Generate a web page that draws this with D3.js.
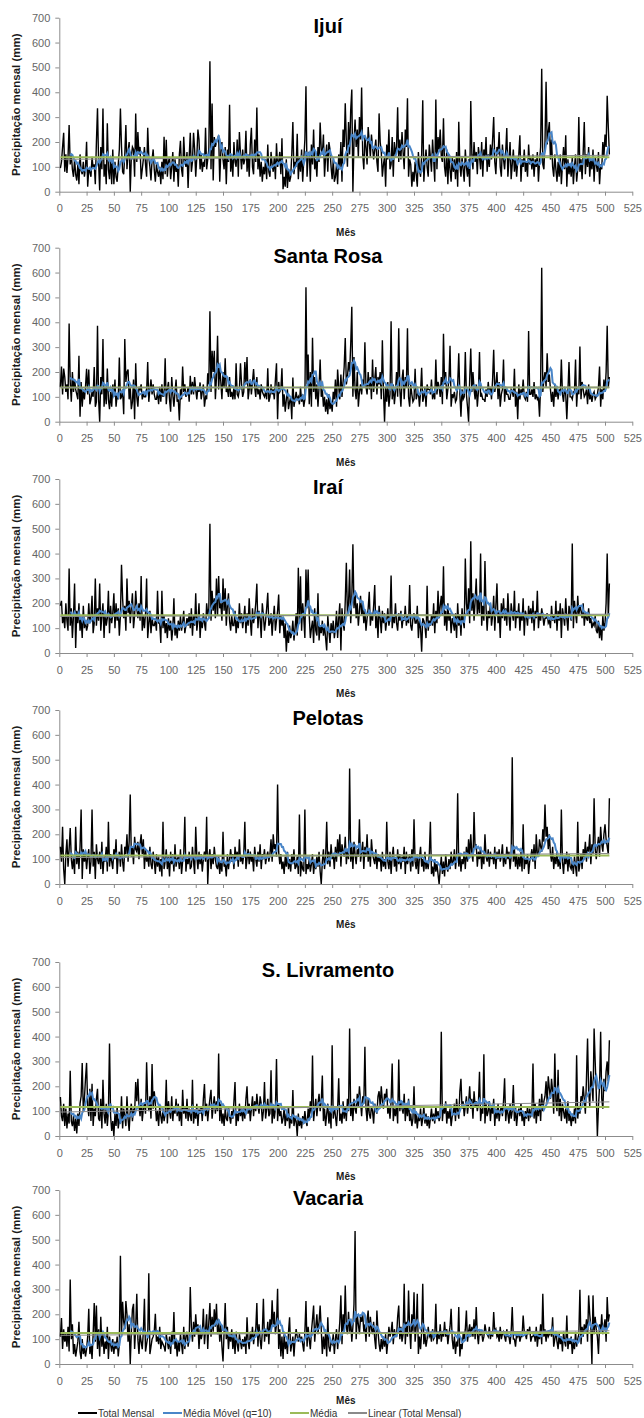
<!DOCTYPE html>
<meta charset="utf-8">
<html>
<head>
<style>
  body { margin: 0; background: #fff; }
  svg text { font-family: "Liberation Sans", Arial, sans-serif; }
  .axis path, .axis line { stroke: #8c8c8c; stroke-width: 1px; }
  .axis text { fill: #666; font-size: 11px; }
  .title { font-size: 20px; font-weight: bold; fill: #000; }
  .ylabel { font-size: 11.5px; font-weight: bold; fill: #1a1a1a; }
  .xlabel { font-size: 10px; font-weight: bold; fill: #1a1a1a; }
  .legend text { font-size: 10px; fill: #333; }
  .total { fill: none; stroke: #000; stroke-width: 1.4px; }
  .mm { fill: none; stroke: #4a86c8; stroke-width: 2px; }
  .media { fill: none; stroke: #9bbb59; stroke-width: 2px; }
  .trend { fill: none; stroke: #8a8a8a; stroke-width: 1px; }
</style>
</head>
<body>
<div id="content"></div>
<script src="https://cdn.jsdelivr.net/npm/d3@7"></script>
<script>

// monthly totals (mm), one row per year, months 1..504
var ijui = [
95,120,180,237,80,150,75,140,268,110,150,90,
60,130,70,45,110,30,150,85,70,120,60,95,
201,20,90,80,60,140,95,110,30,200,336,120,
5,180,90,335,60,110,30,275,90,50,140,30,
170,30,120,60,40,110,170,335,180,80,70,150,
268,90,160,200,0,140,180,170,60,315,120,240,
150,180,50,90,130,180,110,60,257,140,100,45,
130,170,90,40,110,80,60,100,30,120,50,221,
70,209,60,120,140,50,100,160,40,130,80,110,
20,150,205,90,60,221,130,100,160,15,140,237,
80,120,237,170,60,140,250,210,90,150,80,120,
100,257,90,130,170,525,90,355,45,220,180,200,
210,227,40,160,200,130,90,180,30,170,120,350,
80,140,60,200,120,100,210,60,240,150,90,170,
110,130,245,80,150,60,190,257,100,70,210,120,
339,90,150,60,120,40,100,70,130,50,190,80,
60,160,110,80,140,50,195,100,120,160,70,215,
10,60,20,130,15,90,40,60,150,280,70,120,
100,233,50,140,80,170,40,130,210,424,60,150,
160,40,190,110,250,90,130,60,180,120,278,170,
150,230,60,140,190,80,200,170,100,50,130,40,
60,110,30,150,90,200,40,250,180,356,200,100,
280,150,330,411,0,200,290,180,250,140,300,210,
419,150,90,220,180,110,260,200,140,230,180,130,
170,210,120,80,315,200,160,60,110,140,20,190,
130,250,90,110,220,60,200,150,180,340,120,210,
130,240,160,90,250,180,376,60,130,110,20,80,
40,120,70,20,160,90,60,150,368,40,120,170,
100,60,190,140,80,210,130,40,371,90,220,170,
250,140,120,295,100,60,170,30,150,90,40,140,
80,130,50,160,20,281,110,60,140,90,40,170,
100,60,130,20,365,150,90,200,120,160,70,180,
140,90,200,60,170,130,220,80,150,100,190,130,
210,300,120,70,180,150,240,100,60,190,130,90,
160,256,60,130,200,50,110,170,80,140,60,120,
150,227,40,130,100,170,80,120,60,190,110,140,
90,150,60,130,100,160,40,120,180,495,110,90,
200,442,190,240,280,130,210,100,60,150,90,40,
120,60,150,30,110,180,90,227,20,130,70,110,
60,140,30,100,150,40,90,300,80,130,50,160,
280,70,150,100,180,60,130,90,170,40,140,110,
80,160,30,110,90,200,140,230,180,386,260,150
];

var santaRosa = [
140,222,110,214,180,120,150,90,395,160,80,200,
120,170,130,110,90,265,20,160,60,130,90,140,
213,110,210,70,90,120,100,220,60,80,386,90,
0,180,110,333,60,140,70,214,90,50,120,60,
150,100,170,60,110,90,258,90,100,130,30,333,
160,200,210,90,140,50,80,170,10,235,100,60,
140,130,150,90,110,100,100,120,240,80,130,170,
110,150,110,90,90,120,70,140,80,150,100,110,
255,70,130,160,90,40,180,110,60,120,170,80,
90,5,130,90,222,120,150,100,110,140,80,185,
110,160,110,180,130,90,140,120,158,90,120,150,
60,100,90,195,150,444,120,285,200,285,90,180,
346,130,220,160,90,200,140,255,120,130,100,180,
100,120,90,140,90,235,110,100,130,235,150,100,
120,240,150,260,90,130,170,110,160,212,140,100,
180,110,130,90,150,120,110,100,120,90,215,80,
100,150,110,130,90,170,235,10,160,120,130,215,
60,110,40,90,130,50,80,100,10,178,60,90,
120,90,100,70,140,80,110,60,90,541,150,270,
70,200,60,338,120,180,90,150,60,140,250,100,
130,60,100,40,90,30,110,50,80,40,120,90,
170,60,210,140,90,190,100,160,220,337,150,180,
240,200,310,462,100,260,130,90,200,60,120,150,
110,170,140,320,140,110,200,130,180,90,250,120,
170,220,110,180,150,200,90,328,130,0,140,80,
160,60,110,404,90,150,70,120,200,100,376,130,
60,170,210,90,180,140,376,100,60,150,110,80,
90,213,90,110,120,60,120,217,80,100,140,60,
150,130,130,110,170,90,120,90,250,110,160,140,
100,180,70,354,150,200,90,130,170,305,60,110,
100,120,80,90,150,275,110,20,130,90,100,280,
110,60,0,170,294,120,200,130,90,150,60,120,
280,100,110,90,90,80,130,100,160,110,140,90,
170,289,120,150,200,90,160,60,110,130,250,80,
140,110,110,90,90,130,120,100,213,60,120,10,
150,90,130,110,170,100,90,120,80,365,110,110,
130,100,160,90,110,90,100,20,150,619,120,170,
200,140,275,160,190,130,80,120,60,150,100,140,
90,130,110,250,110,80,140,110,10,120,240,100,
100,90,120,120,250,60,140,110,302,90,160,130,
100,110,130,70,150,90,110,80,110,120,90,100,
110,140,222,60,130,90,170,120,200,386,140,180
];

var irai = [
190,210,120,150,100,200,130,90,340,110,180,60,
150,280,20,170,120,200,90,140,60,190,100,130,
90,110,200,120,150,230,80,120,300,110,180,130,
280,90,150,200,60,170,110,140,250,80,190,120,
160,240,100,200,130,180,70,150,355,220,140,190,
90,300,160,210,120,180,240,100,150,250,180,140,
200,130,310,90,150,100,160,300,60,120,170,80,
140,110,110,130,90,250,120,120,40,250,100,150,
80,120,60,140,90,130,50,100,220,70,110,60,
130,90,150,90,120,170,80,110,140,110,160,100,
180,70,150,110,240,90,130,200,60,140,100,160,
120,90,200,150,180,520,130,250,170,220,140,300,
150,310,180,200,130,300,170,260,110,190,240,130,
90,150,110,110,170,80,130,100,200,120,160,100,
140,190,80,160,110,220,130,70,180,120,150,200,
279,100,170,140,60,200,150,90,130,180,242,110,
120,160,70,140,190,90,130,170,235,80,150,110,
140,60,120,5,90,40,110,60,80,130,50,100,
160,70,343,120,309,90,200,140,60,336,180,336,
150,60,100,130,40,180,90,70,240,50,110,80,
130,70,110,60,10,150,90,40,120,80,130,60,
100,170,60,140,200,10,180,120,90,210,363,150,
200,336,120,220,437,180,250,140,200,110,170,230,
150,200,120,170,90,140,180,246,110,160,130,190,
273,100,150,60,190,140,80,170,120,160,90,130,
180,110,140,312,100,150,120,200,120,90,160,130,
170,100,140,130,190,110,150,120,273,110,90,140,
160,120,120,190,60,130,100,5,140,130,110,60,
270,90,130,110,150,110,200,80,170,120,250,140,
190,230,150,349,110,170,90,200,130,160,80,140,
120,90,160,60,200,110,150,70,180,130,100,380,
200,150,260,120,450,170,240,130,210,300,150,220,
160,400,110,190,130,370,180,90,170,140,200,110,
150,230,90,190,280,120,170,60,200,140,220,130,
180,110,240,150,90,200,160,130,250,100,170,140,
200,90,160,130,220,70,170,150,110,190,140,180,
120,210,90,170,140,250,100,160,130,180,150,110,
140,140,160,120,130,100,190,130,150,120,210,90,
170,130,200,60,180,150,110,220,140,90,190,160,
130,440,100,210,160,120,230,150,190,170,140,200,
110,160,140,130,180,120,140,100,120,110,150,90,
80,130,60,110,50,150,90,120,200,400,140,280
];

var pelotas = [
150,90,230,60,0,120,180,70,140,225,100,60,
110,40,230,80,130,60,150,300,20,140,90,120,
60,110,140,40,90,300,70,130,20,160,100,80,
130,60,170,40,110,90,150,50,250,70,120,90,
60,140,100,180,40,110,130,70,160,90,50,150,
120,200,90,170,360,110,150,80,190,140,130,170,
100,160,200,120,180,60,140,90,110,70,150,80,
60,130,90,40,120,70,110,50,100,30,250,60,
90,140,60,110,30,130,80,120,50,160,70,100,
110,60,140,40,90,120,270,50,100,80,130,60,
70,150,90,40,230,110,60,130,80,120,50,100,
130,90,270,0,110,140,60,120,80,150,100,70,
60,110,40,90,50,210,70,80,30,120,60,100,
140,90,120,60,150,100,130,70,180,90,110,80,
120,250,60,100,140,80,130,90,110,50,150,100,
70,130,90,160,60,120,100,140,80,110,130,90,
120,180,90,200,140,160,110,400,130,80,120,60,
90,40,110,70,130,60,100,50,120,80,140,60,
70,110,40,280,30,90,60,50,300,40,80,60,
100,50,80,120,40,90,60,110,70,130,50,0,
90,140,60,110,250,80,130,70,160,100,120,60,
150,90,180,120,200,70,160,130,110,190,80,140,
100,465,90,150,60,170,120,80,140,110,260,90,
130,170,60,150,110,200,90,140,70,180,120,100,
80,140,60,120,90,110,50,130,70,100,60,250,
90,60,130,40,110,150,70,100,50,140,80,120,
60,110,90,150,40,130,80,100,120,50,140,70,
260,90,60,120,40,110,150,70,100,50,130,60,
90,60,120,250,40,70,30,100,50,80,40,0,
60,110,40,90,30,120,70,50,100,60,130,80,
90,140,60,110,365,70,120,50,100,80,130,60,
150,90,180,110,200,120,90,290,140,160,70,130,
100,150,60,120,80,200,110,90,140,70,130,100,
120,80,150,60,130,100,140,90,110,160,70,120,
80,150,100,130,60,110,510,90,140,70,120,60,
110,70,130,50,240,60,100,80,120,40,90,110,
140,90,160,60,200,120,110,180,150,130,220,170,
320,190,230,140,200,120,90,150,60,110,80,130,
70,100,60,300,90,40,110,80,130,50,120,70,
60,90,40,110,70,30,250,50,80,120,60,140,
110,170,90,150,130,200,80,160,120,345,140,100,
150,190,110,230,160,130,200,240,180,150,120,345
];

var livramento = [
157,80,60,130,40,110,30,90,50,262,60,40,
80,20,70,10,90,40,130,160,294,100,150,230,
294,120,80,190,60,210,40,110,80,150,190,70,
60,150,30,226,90,50,130,40,100,372,80,20,
60,0,90,40,120,30,70,50,160,30,110,80,
40,160,70,20,100,130,60,110,90,217,140,230,
120,80,150,60,110,130,90,297,140,100,160,70,
290,110,180,130,60,100,40,120,80,50,110,60,
90,226,50,140,100,70,160,60,120,90,150,80,
130,60,110,40,186,90,120,70,150,60,110,80,
60,226,50,100,70,130,40,110,90,120,60,150,
209,80,130,60,110,150,186,70,120,160,90,140,
100,332,60,130,50,90,40,110,70,60,120,80,
50,100,70,140,217,40,90,60,130,80,110,60,
120,70,150,200,90,130,60,110,160,80,140,100,
170,120,90,160,130,60,100,217,70,110,150,80,
90,264,50,120,70,110,310,60,130,80,100,50,
70,110,40,90,60,120,30,80,50,185,40,70,
60,0,90,40,70,30,80,50,100,60,40,110,
70,140,90,324,60,110,150,80,130,170,100,140,
243,60,110,40,90,130,50,100,30,365,70,120,
80,40,110,232,60,90,50,140,70,120,60,150,
100,432,80,130,60,150,110,90,170,120,200,140,
80,160,130,359,110,60,150,90,70,120,100,50,
130,110,90,160,180,120,200,140,110,170,150,190,
90,120,70,140,292,60,110,80,130,50,308,100,
140,110,90,170,60,130,80,150,60,90,40,70,
200,50,90,30,80,60,110,40,70,120,50,90,
40,80,30,70,110,60,90,50,120,70,100,60,
80,419,60,120,90,140,50,100,70,110,40,80,
90,130,60,150,100,70,180,230,110,140,80,120,
160,90,130,200,110,150,70,180,120,140,100,130,
258,60,110,90,329,50,130,80,100,140,60,120,
90,150,40,110,70,130,60,100,120,80,140,232,
60,110,90,50,130,70,100,205,60,120,40,90,
110,80,130,60,90,40,100,70,120,60,110,80,
90,292,70,130,50,110,80,150,60,170,100,140,
160,220,130,240,190,150,230,180,90,332,140,100,
266,80,150,60,130,100,70,110,50,140,60,90,
40,80,60,110,50,325,70,120,90,160,140,200,
150,90,230,392,180,120,260,200,140,432,300,170,
0,120,200,419,150,110,230,180,260,300,220,385
];

var vacaria = [
110,185,60,140,90,120,70,150,50,340,100,160,
40,80,30,60,90,170,50,20,100,40,70,30,
60,110,222,40,80,20,120,245,90,235,60,140,
30,190,70,120,40,90,60,150,20,110,80,50,
100,40,90,60,110,30,80,435,120,250,170,140,
253,200,90,160,0,130,220,242,60,150,283,100,
40,120,90,60,130,262,50,80,110,365,40,70,
100,110,130,202,90,110,80,150,60,90,80,70,
50,120,90,60,110,40,130,80,209,60,100,30,
90,50,120,80,40,150,60,110,130,70,100,310,
150,90,170,110,200,130,160,60,140,100,120,222,
80,140,200,60,170,245,110,190,130,220,150,242,
120,180,90,160,70,10,130,245,100,150,60,120,
90,140,60,110,40,130,80,50,120,90,60,100,
70,110,40,188,90,60,130,100,150,80,120,140,
245,70,160,100,60,130,262,90,140,110,170,80,
180,130,256,150,210,120,160,303,60,140,30,110,
20,120,60,90,40,130,188,50,80,110,30,100,
140,110,90,120,90,110,80,50,130,253,70,150,
100,60,130,180,235,90,150,200,120,170,235,140,
40,110,60,130,30,188,70,50,90,80,120,40,
100,140,60,110,170,276,80,200,130,316,150,120,
210,130,180,90,150,240,535,100,200,160,120,190,
170,200,130,160,90,180,215,110,190,140,120,170,
100,60,215,130,80,50,100,60,110,70,120,40,
90,150,110,130,170,80,140,110,110,190,235,100,
150,90,120,323,80,170,110,296,140,60,200,130,
289,90,150,283,40,110,60,130,323,80,120,70,
100,150,110,120,90,140,100,110,242,80,130,100,
160,90,130,110,170,110,140,80,120,150,222,100,
60,110,40,90,70,229,30,80,60,120,100,140,
215,90,130,160,110,150,110,180,100,229,120,80,
140,120,130,90,110,160,130,120,110,150,100,130,
110,209,130,140,110,120,90,150,100,120,130,110,
90,140,110,110,80,130,229,100,100,70,120,110,
130,90,110,110,195,130,120,100,140,120,150,90,
110,110,130,90,150,70,120,100,160,80,283,110,
140,90,130,110,120,130,110,188,70,100,130,90,
60,120,80,110,50,130,90,70,195,60,100,80,
110,40,90,60,130,70,100,120,299,80,150,110,
160,130,180,90,276,200,150,0,276,120,190,140,
110,40,160,130,200,120,150,180,90,269,170,200
];

var stations = ["Ijuí", "Santa Rosa", "Iraí", "Pelotas", "S. Livramento", "Vacaria"];
var series = [ijui, santaRosa, irai, pelotas, livramento, vacaria];
var xTicks = d3.range(0, 526, 25);
var yTicks = d3.range(0, 701, 100);
var legendLabels = ["Total Mensal", "Média Móvel (q=10)", "Média", "Linear (Total Mensal)"];
var period = 10;

// layout
var W = 644, H = 1418;
var left = 59.3, right = 632.3, plotH = 174;
var baseY = [191.7, 421.7, 653, 884, 1136, 1364];

var svg = d3.select("#content").append("svg")
    .attr("width", W).attr("height", H);

var x = d3.scaleLinear().domain([0, 525]).range([left, right]);

series.forEach(function(vals, k) {
  var y0 = baseY[k];
  var y = d3.scaleLinear().domain([0, 700]).range([y0, y0 - plotH]);
  var g = svg.append("g");

  var pts = vals.map(function(v, i) { return [i + 1, v]; });

  // moving average (q=10)
  var mm = [];
  for (var i = period - 1; i < vals.length; i++) {
    mm.push([i + 1, d3.mean(vals.slice(i - period + 1, i + 1))]);
  }

  var mean = d3.mean(vals);

  // least squares trend
  var mx = d3.mean(pts, function(d) { return d[0]; });
  var sxy = d3.sum(pts, function(d) { return (d[0] - mx) * (d[1] - mean); });
  var sxx = d3.sum(pts, function(d) { return (d[0] - mx) * (d[0] - mx); });
  var slope = sxy / sxx, icpt = mean - slope * mx;
  var n = vals.length;

  var line = d3.line()
      .x(function(d) { return x(d[0]); })
      .y(function(d) { return y(d[1]); });

  g.append("g").attr("class", "axis")
      .attr("transform", "translate(0," + y0 + ")")
      .call(d3.axisBottom(x).tickValues(xTicks).tickSize(4).tickSizeOuter(0).tickPadding(9));

  g.append("g").attr("class", "axis")
      .attr("transform", "translate(" + left + ",0)")
      .call(d3.axisLeft(y).tickValues(yTicks).tickSize(4).tickSizeOuter(0).tickPadding(5));

  g.append("path").datum(pts).attr("class", "total").attr("d", line);
  g.append("path").datum(mm).attr("class", "mm").attr("d", line);
  g.append("path").datum([[1, mean], [n, mean]]).attr("class", "media").attr("d", line);
  g.append("path").datum([[1, icpt + slope], [n, icpt + slope * n]]).attr("class", "trend").attr("d", line);

  g.append("text").attr("class", "title")
      .attr("x", 328).attr("y", y0 - plotH + 15)
      .attr("text-anchor", "middle").text(stations[k]);

  g.append("text").attr("class", "ylabel")
      .attr("transform", "translate(20," + (y0 - plotH / 2) + ") rotate(-90)")
      .attr("text-anchor", "middle").text("Precipitação mensal (mm)");

  g.append("text").attr("class", "xlabel")
      .attr("x", (left + right) / 2)
      .attr("y", k === 5 ? 1404 : y0 + 44)
      .attr("text-anchor", "middle").text("Mês");
});

// legend
var legendX = [78, 163, 290, 348];
var legendCls = ["total", "mm", "media", "trend"];
var lg = svg.append("g").attr("class", "legend");
legendLabels.forEach(function(t, i) {
  lg.append("line").attr("class", legendCls[i])
      .attr("x1", legendX[i]).attr("x2", legendX[i] + 19)
      .attr("y1", 1413).attr("y2", 1413)
      .style("stroke-width", "2px");
  lg.append("text").attr("x", legendX[i] + 20).attr("y", 1416.5).text(t);
});

</script>
</body>
</html>
